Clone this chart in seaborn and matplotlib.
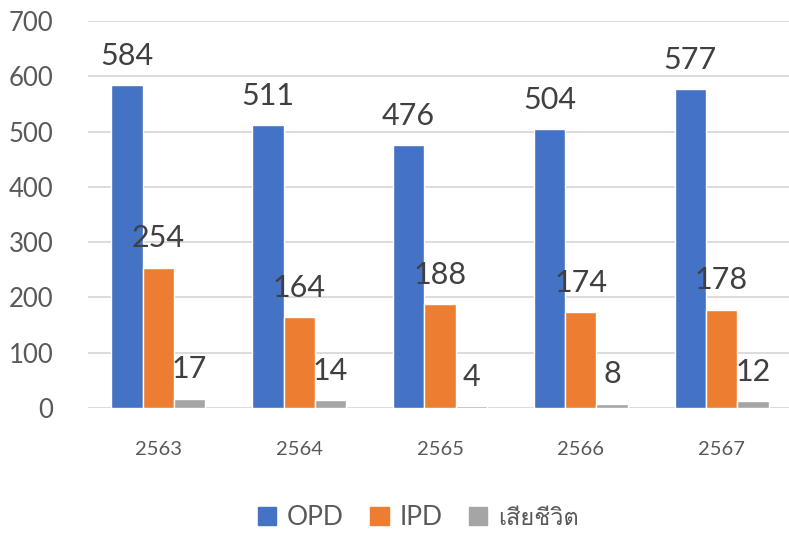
import matplotlib
matplotlib.use("Agg")
import matplotlib.pyplot as plt
from matplotlib import font_manager
from matplotlib.ft2font import FT2Font
import seaborn as sns
import pandas as pd

# ข้อมูล
years = ["2563", "2564", "2565", "2566", "2567"]
series = ["OPD", "IPD", "เสียชีวิต"]
opd = [584, 511, 476, 504, 577]
ipd = [254, 164, 188, 174, 178]
dead = [17, 14, 4, 8, 12]
colors = ["#4472C4", "#ED7D31", "#A5A5A5"]


# หาฟอนต์ที่มีอักษรไทย
def find_thai_font():
    for f in font_manager.fontManager.ttflist:
        try:
            if 0x0E40 in FT2Font(f.fname).get_charmap():
                return f.name
        except Exception:
            pass
    return "DejaVu Sans"


thai = find_thai_font()

df = pd.DataFrame({
    "year": years * 3,
    "value": opd + ipd + dead,
    "series": [s for s in series for _ in years],
})

sns.set_style("white")
plt.rcParams["font.family"] = ["Lato", thai, "DejaVu Sans"]

fig = plt.figure(figsize=(7.89, 5.34), dpi=100)
ax = fig.add_axes([88 / 789, 126 / 534, 704 / 789, 387 / 534])

sns.barplot(data=df, x="year", y="value", hue="series", palette=colors,
            width=0.667, gap=0, saturation=1, ax=ax, legend=False)

for c in ax.containers:
    ax.bar_label(c, padding=11, fontsize=22, color="#404040")

ax.set_ylim(0, 700)
ax.set_xlim(-0.5, 4.5)
ax.set_yticks(range(0, 701, 100))
ax.yaxis.grid(True, color="#D9D9D9", linewidth=1.3)
ax.set_axisbelow(True)
for s in ax.spines.values():
    s.set_visible(False)
ax.set_xlabel("")
ax.set_ylabel("")
ax.tick_params(axis="y", labelsize=18.5, labelcolor="#595959", length=0, pad=25)
ax.tick_params(axis="x", labelsize=14.5, labelcolor="#595959", length=0, pad=24)

handles = [plt.Rectangle((0, 0), 1, 1, color=c) for c in colors]
leg = fig.legend(handles, series, loc="center", bbox_to_anchor=(0.53, 0.03),
                 ncol=3, frameon=False, fontsize=19, handlelength=0.7,
                 handleheight=0.7, handletextpad=0.4, columnspacing=1.0)
for t in leg.get_texts():
    t.set_color("#595959")
leg.get_texts()[2].set_fontsize(17)

fig.savefig("out.png", dpi=100)
